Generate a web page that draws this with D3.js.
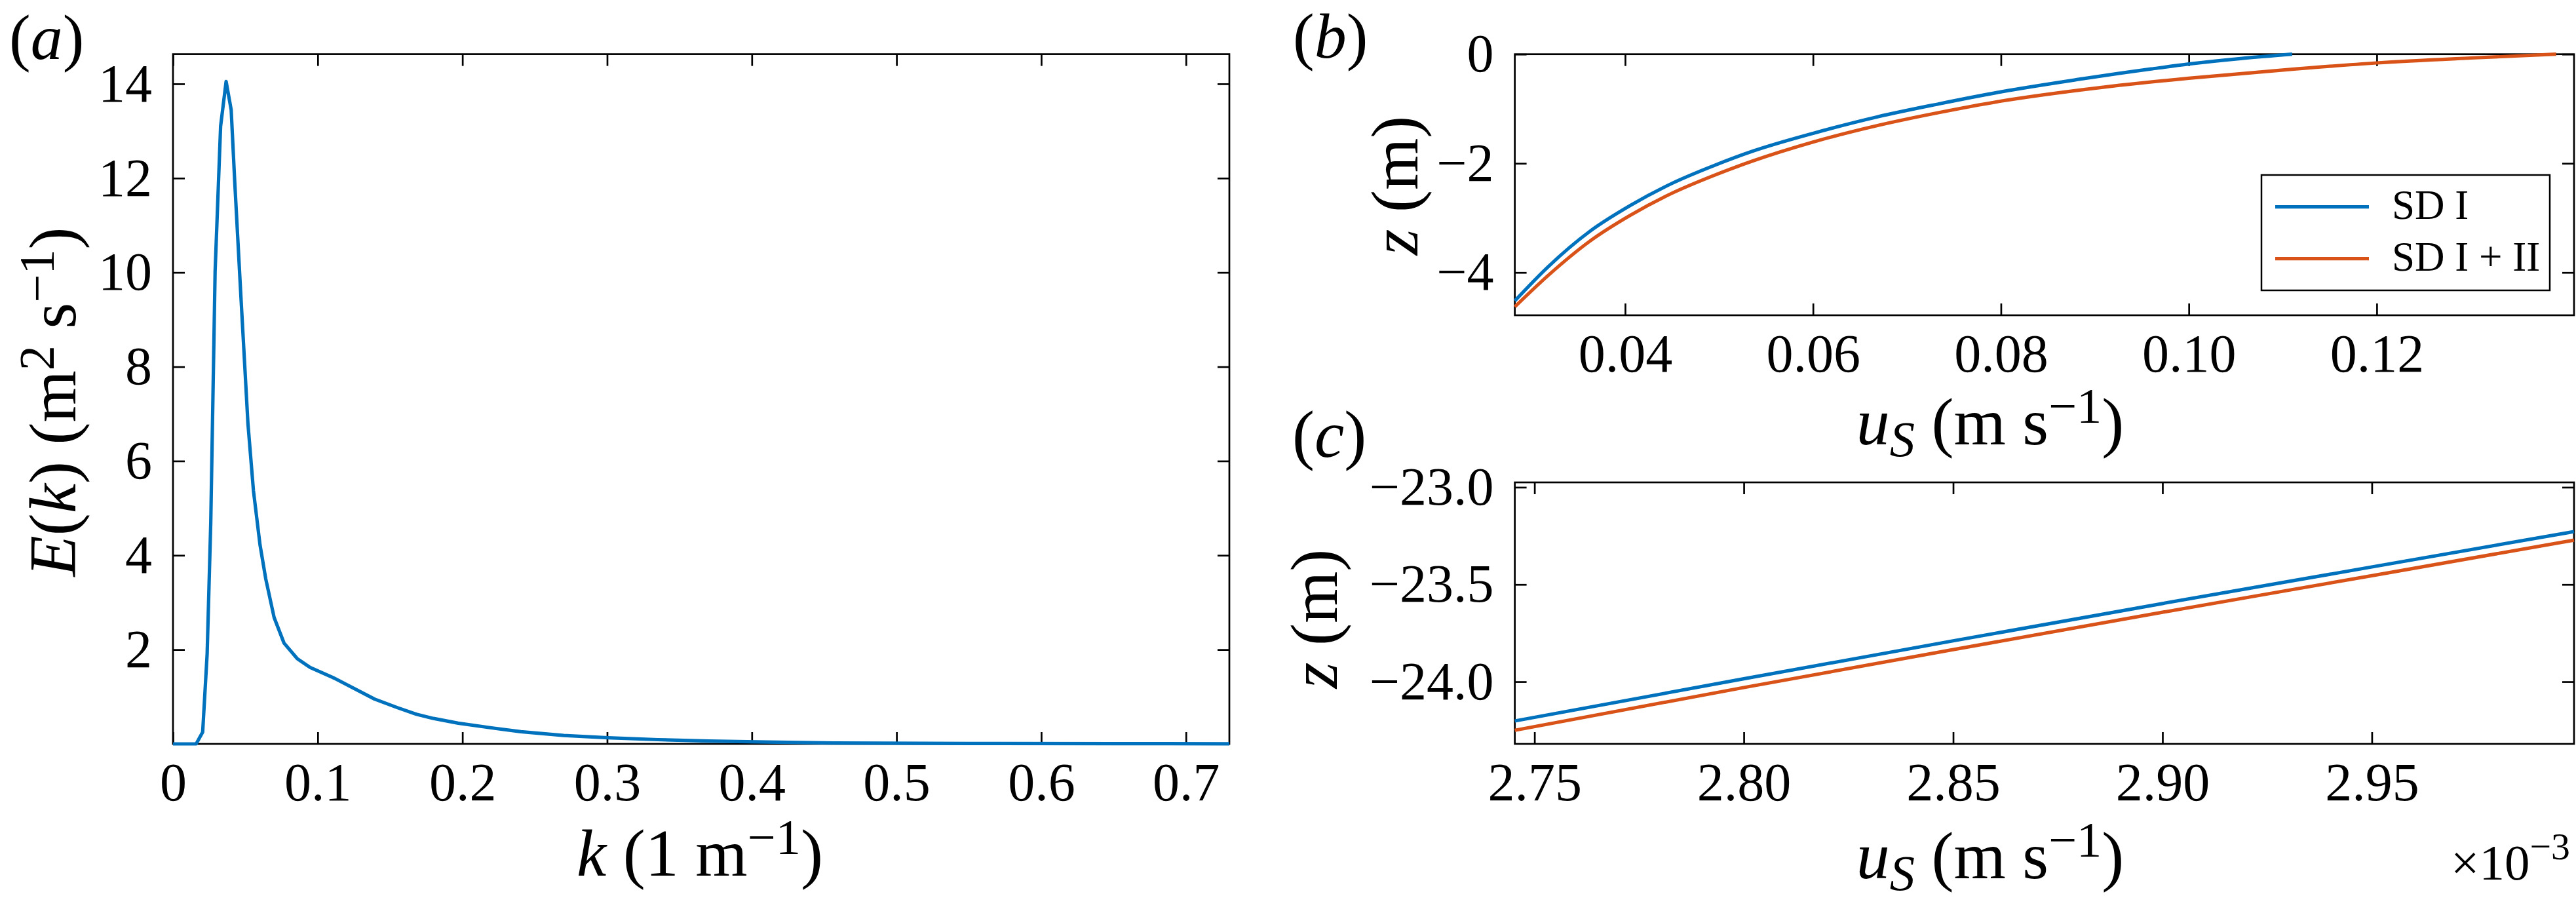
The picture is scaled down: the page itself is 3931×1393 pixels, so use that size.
<!DOCTYPE html>
<html>
<head>
<meta charset="utf-8">
<script src="https://cdn.jsdelivr.net/npm/d3@7"></script>
<style>
  body { margin: 0; background: #fff; }
  text { font-family: "Liberation Serif", "Times New Roman", Tinos, serif; fill: #000; }
</style>
</head>
<body>
<svg id="chart"></svg>
<script>
// (a) wave spectrum E(k)
const kVals = [0, 0.016, 0.0205, 0.0236, 0.0261, 0.0291, 0.0329, 0.0367, 0.0402, 0.0427, 0.0465,
  0.0518, 0.0556, 0.0584, 0.0601, 0.0641, 0.0699, 0.0767, 0.0858, 0.0948, 0.1104, 0.1393,
  0.155, 0.1682, 0.18, 0.1971, 0.22, 0.2404, 0.27, 0.3005, 0.335, 0.37, 0.41, 0.457, 0.55, 0.65, 0.73];
const eVals = [0, 0, 0.25, 1.91, 4.7, 10.02, 13.1, 14.05, 13.45, 11.9, 9.73,
  6.79, 5.37, 4.66, 4.23, 3.5, 2.68, 2.14, 1.81, 1.62, 1.41, 0.95,
  0.77, 0.63, 0.54, 0.44, 0.34, 0.26, 0.18, 0.13, 0.09, 0.06, 0.04, 0.02, 0.01, 0.005, 0.003];
const aXTicks = [0, 0.1, 0.2, 0.3, 0.4, 0.5, 0.6, 0.7];
const aYTicks = [2, 4, 6, 8, 10, 12, 14];

// (b) Stokes drift profiles near the surface
const bU_sd1 = [0.02826, 0.03184, 0.03622, 0.04058, 0.04496, 0.04933, 0.0537, 0.06, 0.0668, 0.0734,
  0.08, 0.0887, 0.0926, 0.096, 0.10, 0.1055, 0.1110];
const bZ_sd1 = [-4.52, -3.89, -3.25, -2.77, -2.37, -2.05, -1.77, -1.45, -1.15, -0.91,
  -0.69, -0.45, -0.35, -0.27, -0.18, -0.08, 0];
const bU_sd12 = [0.02826, 0.03184, 0.03622, 0.04058, 0.04496, 0.04933, 0.0537, 0.06, 0.0668, 0.0734,
  0.08, 0.0887, 0.0926, 0.10, 0.11, 0.12, 0.13, 0.1391];
const bZ_sd12 = [-4.63, -4.05, -3.43, -2.95, -2.55, -2.23, -1.95, -1.61, -1.31, -1.07,
  -0.86, -0.65, -0.57, -0.44, -0.29, -0.16, -0.07, 0];
const bXTicks = [0.04, 0.06, 0.08, 0.10, 0.12];
const bYTicks = [0, -2, -4];

// (c) deep part, u in units of 1e-3 m/s
const cU = [2.7453, 2.80, 2.85, 2.90, 2.95, 2.9983];
const cZ_sd1 = [-24.202, -23.985, -23.79, -23.598, -23.41, -23.228];
const cZ_sd12 = [-24.25, -24.03, -23.835, -23.643, -23.455, -23.272];
const cXTicks = [2.75, 2.80, 2.85, 2.90, 2.95];
const cYTicks = [-23.0, -23.5, -24.0];

const seriesNames = ["SD I", "SD I + II"];
const colors = ["#0072BD", "#D95319"];

const width = 3931, height = 1393;
const tickFont = 82, labelFont = 102;
const curveWidth = 5.2;

const svg = d3.select("#chart").attr("width", width).attr("height", height);

function drawAxes(g, x, y, xTicks, yTicks, xFmt, yFmt) {
    const [xl, xr] = x.range();
    const [yb, yt] = y.range();

    const axes = [
        g.append("g").attr("transform", `translate(0,${yb})`)
            .call(d3.axisBottom(x).tickValues(xTicks).tickFormat(xFmt)
                .tickSizeInner(-18).tickSizeOuter(0).tickPadding(28)),
        g.append("g").attr("transform", `translate(0,${yt})`)
            .call(d3.axisTop(x).tickValues(xTicks).tickFormat("")
                .tickSizeInner(-18).tickSizeOuter(0)),
        g.append("g").attr("transform", `translate(${xl},0)`)
            .call(d3.axisLeft(y).tickValues(yTicks).tickFormat(yFmt)
                .tickSizeInner(-18).tickSizeOuter(0).tickPadding(32)),
        g.append("g").attr("transform", `translate(${xr},0)`)
            .call(d3.axisRight(y).tickValues(yTicks).tickFormat("")
                .tickSizeInner(-18).tickSizeOuter(0))
    ];
    axes.forEach(a => {
        a.attr("font-size", tickFont).attr("font-family", null);
        a.select(".domain").remove();
        a.selectAll(".tick line").attr("stroke", "#000").attr("stroke-width", 2.7);
    });

    g.append("rect")
        .attr("x", xl).attr("y", yt)
        .attr("width", xr - xl).attr("height", yb - yt)
        .attr("fill", "none").attr("stroke", "#000").attr("stroke-width", 2.7);
}

// rich text: parts are [text, style] with style among "", "i", "sup", "sub", "isub"
function richText(g, parts, size, opts) {
    const t = g.append("text").attr("font-size", size).attr("text-anchor", opts.anchor || "middle");
    if (opts.transform) t.attr("transform", opts.transform);
    else t.attr("x", opts.x).attr("y", opts.y);
    let shift = 0;
    parts.forEach(([s, style]) => {
        let target = 0;
        const span = t.append("tspan").text(s);
        if (style === "sup") { target = -opts.raise; span.attr("font-size", size * 0.75); }
        if (style === "sub" || style === "isub") { target = opts.lower; span.attr("font-size", size * 0.75); }
        if (style === "i" || style === "isub") span.attr("font-style", "italic");
        if (target !== shift) { span.attr("dy", target - shift); shift = target; }
    });
    return t;
}

function line(x, y) {
    return d3.line().x(d => x(d[0])).y(d => y(d[1]));
}

// ---------- panel (a)
{
    const g = svg.append("g");
    const x = d3.scaleLinear().domain([0, 0.73]).range([264, 1876]);
    const y = d3.scaleLinear().domain([0, 14.63]).range([1135, 82.6]);
    drawAxes(g, x, y, aXTicks, aYTicks, d => d === 0 ? "0" : d3.format(".1f")(d), d3.format("d"));

    g.append("path")
        .datum(d3.zip(kVals, eVals))
        .attr("fill", "none").attr("stroke", colors[0]).attr("stroke-width", curveWidth)
        .attr("stroke-linejoin", "round")
        .attr("d", line(x, y));

    richText(g, [["E", "i"], ["(", ""], ["k", "i"], [") (m", ""], ["2", "sup"], [" s", ""], ["\u22121", "sup"], [")", ""]],
        labelFont, { transform: "translate(115,613) rotate(-90)", raise: 33, lower: 18 });
    richText(g, [["k", "i"], [" (1 m", ""], ["\u22121", "sup"], [")", ""]],
        labelFont, { x: 1068, y: 1336, raise: 33, lower: 18 });
    richText(g, [["(", ""], ["a", "i"], [")", ""]], 98, { x: 14, y: 90, anchor: "start" });
}

// ---------- panel (b)
{
    const g = svg.append("g");
    const x = d3.scaleLinear().domain([0.02826, 0.1410]).range([2311.6, 3928]);
    const y = d3.scaleLinear().domain([-4.784, 0]).range([481, 82.7]);
    drawAxes(g, x, y, bXTicks, bYTicks, d3.format(".2f"), d3.format("d"));

    const lg = line(x, y).curve(d3.curveMonotoneX);
    [[bU_sd1, bZ_sd1], [bU_sd12, bZ_sd12]].forEach(([u, z], i) => {
        g.append("path")
            .datum(d3.zip(u, z))
            .attr("fill", "none").attr("stroke", colors[i]).attr("stroke-width", curveWidth)
            .attr("d", lg);
    });

    // legend
    const leg = g.append("g");
    leg.append("rect").attr("x", 3451).attr("y", 267).attr("width", 440).attr("height", 176)
        .attr("fill", "#fff").attr("stroke", "#000").attr("stroke-width", 2.5);
    seriesNames.forEach((name, i) => {
        const cy = 315.7 + i * 79;
        leg.append("line").attr("x1", 3472).attr("x2", 3615).attr("y1", cy).attr("y2", cy)
            .attr("stroke", colors[i]).attr("stroke-width", curveWidth);
        leg.append("text").attr("x", 3650).attr("y", cy + 18.6).attr("font-size", 63).text(name);
    });

    richText(g, [["z", "i"], [" (m)", ""]], labelFont, { transform: "translate(2163,283) rotate(-90)" });
    richText(g, [["u", "i"], ["S", "isub"], [" (m s", ""], ["\u22121", "sup"], [")", ""]],
        labelFont, { x: 3037, y: 678, raise: 33, lower: 18 });
    richText(g, [["(", ""], ["b", "i"], [")", ""]], 98, { x: 1973, y: 88, anchor: "start" });
}

// ---------- panel (c)
{
    const g = svg.append("g");
    const x = d3.scaleLinear().domain([2.7453, 2.9983]).range([2311.6, 3928]);
    const y = d3.scaleLinear().domain([-24.32, -22.975]).range([1135, 736]);
    drawAxes(g, x, y, cXTicks, cYTicks, d3.format(".2f"), d3.format(".1f"));

    const lg = line(x, y).curve(d3.curveMonotoneX);
    [cZ_sd1, cZ_sd12].forEach((z, i) => {
        g.append("path")
            .datum(d3.zip(cU, z))
            .attr("fill", "none").attr("stroke", colors[i]).attr("stroke-width", curveWidth)
            .attr("d", lg);
    });

    richText(g, [["z", "i"], [" (m)", ""]], labelFont, { transform: "translate(2040,944) rotate(-90)" });
    richText(g, [["u", "i"], ["S", "isub"], [" (m s", ""], ["\u22121", "sup"], [")", ""]],
        labelFont, { x: 3037, y: 1340, raise: 33, lower: 18 });
    richText(g, [["\u00d710", ""], ["\u22123", "sup"]], 77, { x: 3740, y: 1341.7, anchor: "start", raise: 31 });
    richText(g, [["(", ""], ["c", "i"], [")", ""]], labelFont, { x: 1972, y: 697, anchor: "start" });
}
</script>
</body>
</html>
